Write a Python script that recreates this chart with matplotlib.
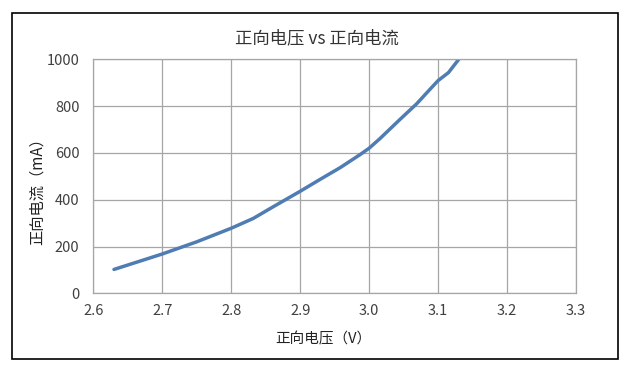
import matplotlib
matplotlib.use("Agg")
import matplotlib.pyplot as plt
from matplotlib.patches import Rectangle

plt.rcParams['font.family'] = ['Noto Sans CJK SC', 'DejaVu Sans']

voltage = [2.630, 2.700, 2.750, 2.800, 2.832, 2.861, 2.900, 2.929, 2.958,
           2.987, 3.000, 3.016, 3.044, 3.069, 3.088, 3.100, 3.115, 3.130]
current = [102, 168, 220, 278, 320, 370, 436, 487, 537,
           593, 620, 662, 741, 810, 871, 909, 943, 1000]

x_ticks = [2.6, 2.7, 2.8, 2.9, 3.0, 3.1, 3.2, 3.3]
x_tick_labels = ["2.6", "2.7", "2.8", "2.9", "3.0", "3.1", "3.2", "3.3"]
y_ticks = [0, 200, 400, 600, 800, 1000]

title = "正向电压 vs 正向电流"
xlabel = "正向电压（V）"
ylabel = "正向电流（mA）"

fig = plt.figure(figsize=(6.29, 3.69), dpi=100)
ax = fig.add_axes([93.3/629, 1-293.3/369, (576-93.3)/629, (293.3-59.3)/369])

ax.plot(voltage, current, color="#4f7db3", linewidth=2.5,
        solid_capstyle="round", solid_joinstyle="round")

ax.set_xlim(2.6, 3.3)
ax.set_ylim(0, 1000)
ax.set_xticks(x_ticks)
ax.set_xticklabels(x_tick_labels)
ax.set_yticks(y_ticks)
ax.grid(True, color="#a6a6a6", linewidth=0.9)
ax.set_axisbelow(True)
for s in ax.spines.values():
    s.set_color("#a6a6a6")
    s.set_linewidth(0.9)
ax.tick_params(length=0, labelsize=10.5, colors="#404040", pad=8)
ax.tick_params(axis='y', pad=10)

fig.text(317/629, 1-38/369, title, ha="center", va="center", fontsize=12.5, color="#333333")
fig.text(323/629, 1-339/369, xlabel, ha="center", va="center", fontsize=10.5, color="#222222")
fig.text(37/629, 1-188/369, ylabel, ha="center", va="center", rotation=90, fontsize=11, color="#222222")

fig.patches.append(Rectangle((12/629, 1-359/369), (618-12)/629, (359-13)/369,
                             transform=fig.transFigure, fill=False, edgecolor="black", linewidth=1.2))

fig.savefig("out.png", dpi=100)
